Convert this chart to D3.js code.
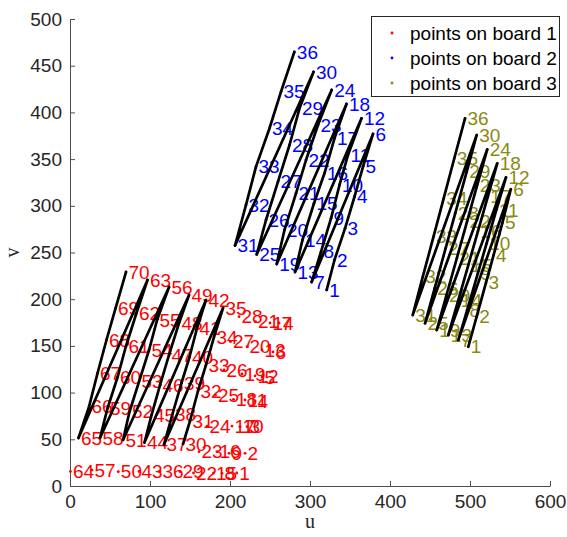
<!DOCTYPE html>
<html>
<head>
<meta charset="utf-8">
<script src="https://cdn.jsdelivr.net/npm/d3@7"></script>
<style>
  body { margin: 0; background: #fff; }
  svg { display: block; }
</style>
</head>
<body>
<svg id="chart" width="567" height="537"></svg>
<script>
// Axis ticks
const uTicks = [0, 100, 200, 300, 400, 500, 600];
const vTicks = [0, 50, 100, 150, 200, 250, 300, 350, 400, 450, 500];

// Board 1: 70 reprojected corners (u, v), point n at index n-1
const board1U = [
  208.4, 218.8, 221.3, 231.3, 240.0, 253.8, 261.3,
  190.0, 198.8, 212.5, 218.8, 231.3, 240.0, 250.0,
  179.4, 183.8, 202.5, 204.4, 215.0, 221.3, 231.9,
  154.4, 161.3, 171.3, 181.9, 192.5, 200.6, 211.3,
  137.5, 141.3, 150.0, 160.0, 170.0, 180.0, 191.3,
  112.5, 117.5, 128.1, 139.4, 149.4, 158.8, 170.0,
  86.3, 93.1, 101.9, 112.5, 123.8, 136.3, 148.8,
  60.4, 66.3, 74.4, 86.3, 98.8, 108.8, 123.8,
  27.5, 37.5, 46.9, 59.4, 70.0, 83.1, 96.9,
  0.5, 10.6, 23.8, 34.4, 45.6, 56.9, 70.0
];
const board1V = [
  13.9, 35.0, 63.5, 91.0, 116.7, 143.5, 174.5,
  13.6, 35.0, 63.5, 92.1, 117.8, 145.6, 174.5,
  13.9, 36.7, 64.2, 92.8, 119.9, 149.1, 175.9,
  13.9, 36.7, 64.2, 97.4, 124.2, 154.5, 181.3,
  15.5, 45.0, 69.6, 101.7, 129.6, 159.5, 190.6,
  15.5, 44.4, 77.1, 110.3, 138.1, 169.2, 199.1,
  15.5, 46.6, 76.0, 108.1, 140.3, 174.5, 204.5,
  15.3, 49.3, 79.5, 111.7, 145.6, 177.7, 213.1,
  17.1, 51.4, 83.2, 116.4, 149.9, 185.2, 220.6,
  15.5, 51.4, 84.9, 120.7, 156.3, 190.3, 229.1
];
// Board 1 corners joined by the traced grid line, in drawing order
const board1Path = [
  30, 31, 32, 33, 34, 35,
  37, 38, 39, 40, 41, 42,
  44, 45, 46, 47, 48, 49,
  51, 52, 53, 54, 55, 56,
  58, 59, 60, 61, 62, 63,
  65, 66, 67, 68, 69, 70
];

// Board 2: 36 corners
const board2U = [
  320.9, 330.6, 343.8, 355.6, 366.3, 378.8,
  302.1, 313.8, 326.3, 336.9, 347.5, 364.4,
  281.3, 290.6, 305.0, 318.1, 330.6, 345.6,
  258.4, 268.1, 282.5, 295.0, 310.0, 327.1,
  233.4, 245.0, 260.0, 274.4, 286.9, 304.4,
  206.3, 220.0, 232.5, 249.4, 263.8, 280.4
];
const board2V = [
  209.9, 242.0, 275.9, 309.7, 341.9, 376.9,
  218.4, 250.9, 286.6, 322.3, 354.4, 393.7,
  229.1, 263.4, 302.7, 334.8, 372.3, 409.0,
  237.7, 274.1, 313.4, 349.0, 386.5, 424.0,
  247.9, 284.8, 325.8, 365.1, 404.4, 443.3,
  257.5, 300.9, 341.9, 383.0, 422.2, 464.7
];

// Board 3: 36 corners
const board3U = [
  497.9, 508.3, 520.0, 529.5, 540.6, 551.0,
  485.4, 496.4, 509.8, 520.8, 532.9, 545.0,
  472.9, 485.4, 497.9, 509.8, 522.3, 534.1,
  458.4, 470.6, 483.5, 496.3, 509.1, 521.6,
  443.8, 455.8, 469.5, 481.5, 495.9, 508.4,
  428.4, 441.0, 454.4, 467.1, 480.4, 493.8
];
const board3V = [
  149.1, 181.3, 217.7, 247.3, 281.9, 317.7,
  156.3, 188.4, 227.7, 259.9, 295.5, 330.5,
  161.7, 199.1, 236.6, 272.3, 309.7, 345.5,
  167.0, 204.5, 243.8, 283.0, 322.3, 360.5,
  174.2, 211.7, 254.5, 292.0, 336.5, 375.8,
  183.1, 224.1, 266.9, 308.0, 350.9, 393.7
];

const boardNames = ["points on board 1", "points on board 2", "points on board 3"];
const boardColors = ["#ff0000", "#0000ff", "#8a8a10"];

const FONT = '"Liberation Sans", Arial, Helvetica, sans-serif';
const SERIF = '"Liberation Serif", "Times New Roman", serif';

const svg = d3.select("#chart");
const x = d3.scaleLinear().domain([0, 600]).range([70, 550]);
const y = d3.scaleLinear().domain([0, 500]).range([486, 19]);

// Axes (ticks point inward)
const gx = svg.append("g").attr("transform", `translate(0,${y(0)})`)
  .call(d3.axisBottom(x).tickValues(uTicks).tickSizeInner(-5).tickSizeOuter(0).tickPadding(9));
const gy = svg.append("g").attr("transform", `translate(${x(0)},0)`)
  .call(d3.axisLeft(y).tickValues(vTicks).tickSizeInner(-5).tickSizeOuter(0).tickPadding(8));
[gx, gy].forEach(g => {
  g.attr("font-family", FONT).attr("font-size", 19);
  g.selectAll("path, line").attr("stroke", "#4d4d4d").attr("stroke-width", 1);
  g.selectAll("text").attr("fill", "#262626");
});

svg.append("text").attr("x", (x(0) + x(600)) / 2).attr("y", 528)
  .attr("text-anchor", "middle").attr("font-family", SERIF).attr("font-size", 20)
  .attr("fill", "#262626").text("u");
svg.append("text").attr("transform", `translate(19,${(y(0) + y(500)) / 2}) rotate(-90)`)
  .attr("text-anchor", "middle").attr("font-family", SERIF).attr("font-size", 20)
  .attr("fill", "#262626").text("v");

const boards = [
  { U: board1U, V: board1V, path: board1Path },
  { U: board2U, V: board2V, path: d3.range(1, board2U.length + 1) },
  { U: board3U, V: board3V, path: d3.range(1, board3U.length + 1) }
];

// Corner markers and their index labels
boards.forEach((b, k) => {
  const pts = b.U.map((u, i) => ({ n: i + 1, u, v: b.V[i] }));
  const g = svg.append("g");
  g.selectAll("circle").data(pts).join("circle")
    .attr("cx", d => x(d.u)).attr("cy", d => y(d.v)).attr("r", 1.4)
    .attr("fill", boardColors[k]);
  g.selectAll("text").data(pts).join("text")
    .attr("x", d => x(d.u) + 2.5).attr("y", d => y(d.v)).attr("dy", "0.35em")
    .attr("font-family", FONT).attr("font-size", 19)
    .attr("fill", boardColors[k]).text(d => d.n);
});

// Traced grid lines through the corners
const line = d3.line().x(d => x(d.u)).y(d => y(d.v));
boards.forEach(b => {
  const verts = b.path.map(n => ({ u: b.U[n - 1], v: b.V[n - 1] }));
  svg.append("path").attr("d", line(verts)).attr("fill", "none")
    .attr("stroke", "#000").attr("stroke-width", 2.7)
    .attr("stroke-linejoin", "round").attr("stroke-linecap", "round");
});

// Legend
const lg = svg.append("g");
lg.append("rect").attr("x", 371.5).attr("y", 16.5).attr("width", 188).attr("height", 80)
  .attr("fill", "#fff").attr("stroke", "#262626").attr("stroke-width", 1);
boardNames.forEach((name, k) => {
  const cy = 33 + k * 25;
  lg.append("circle").attr("cx", 392).attr("cy", cy).attr("r", 1.4).attr("fill", boardColors[k]);
  lg.append("text").attr("x", 410).attr("y", cy).attr("dy", "0.35em")
    .attr("font-family", FONT).attr("font-size", 19).attr("fill", "#000").text(name);
});
</script>
</body>
</html>
